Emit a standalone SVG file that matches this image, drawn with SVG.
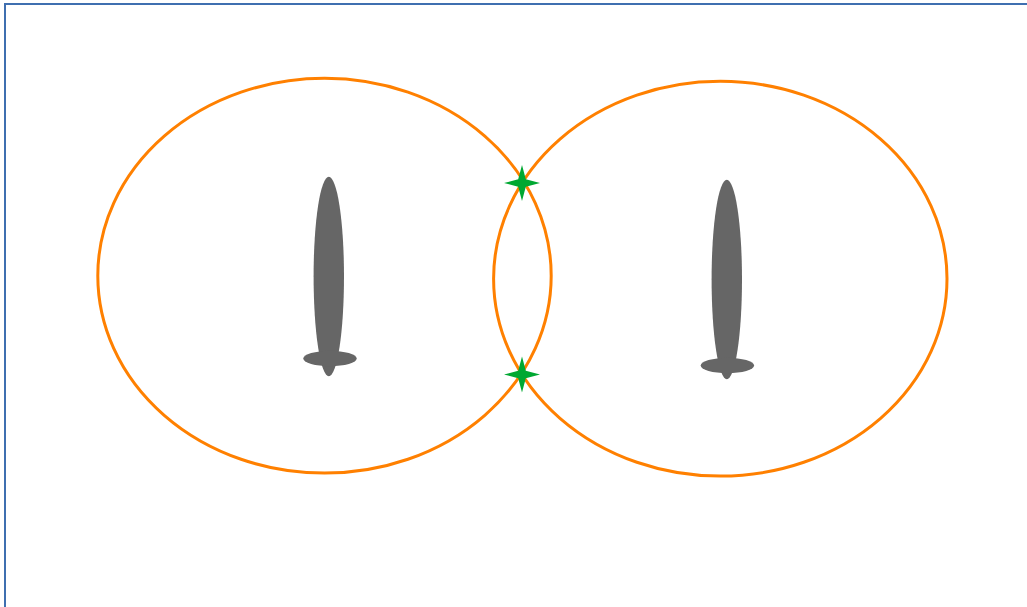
<svg xmlns="http://www.w3.org/2000/svg" width="1027" height="607" viewBox="0 0 1027 607">
<style>
.ring{fill:none;stroke:#ff8000;stroke-width:3}
.ant{fill:#666666}
.star{fill:#00a832}
.frame{fill:none;stroke:#3f6fb0;stroke-width:2}
</style>
<defs>
<polygon id="star" class="star" points="0,-18 3.800,-3.800 18,0 3.800,3.800 0,18 -3.800,3.800 -18,0 -3.800,-3.800"/>
</defs>
<rect width="1027" height="607" fill="#ffffff"/>
<path class="frame" d="M5,607V4H1027"/>
<g id="connectors">
<ellipse class="ring" cx="324.500" cy="275.700" rx="226.700" ry="197.400"/>
<ellipse class="ring" cx="720.300" cy="278.700" rx="226.700" ry="197.400"/>
</g>
<g id="antenna-left">
<ellipse class="ant" cx="328.800" cy="276.500" rx="15.200" ry="99.700"/>
<ellipse class="ant" cx="330" cy="358.500" rx="26.700" ry="7.700"/>
</g>
<g id="antenna-right">
<ellipse class="ant" cx="726.800" cy="279.500" rx="15.200" ry="99.700"/>
<ellipse class="ant" cx="727.400" cy="365.500" rx="26.700" ry="7.700"/>
</g>
<g id="star-top"><use href="#star" x="522" y="183"/></g>
<g id="star-bottom"><use href="#star" x="522" y="374.500"/></g>
</svg>
